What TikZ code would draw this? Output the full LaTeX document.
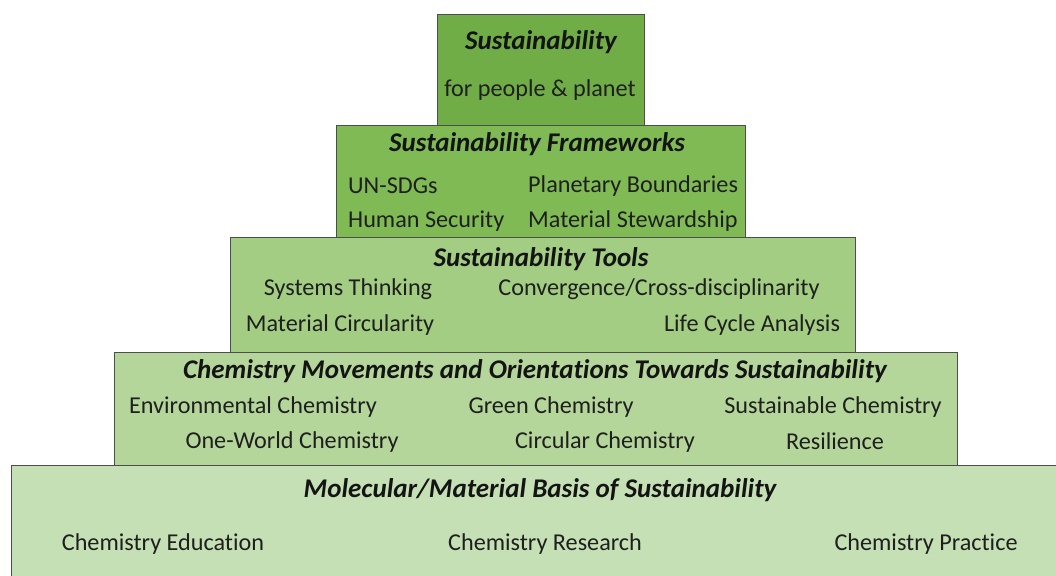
\documentclass[tikz,border=0pt]{standalone}
\usepackage{fontspec}
\setmainfont{Carlito}[Ligatures={NoCommon,NoRare,NoDiscretionary}]
\usetikzlibrary{positioning}

\definecolor{tierA}{HTML}{70AD47}
\definecolor{tierB}{HTML}{7FBA55}
\definecolor{tierC}{HTML}{A2CD82}
\definecolor{tierD}{HTML}{B4D69A}
\definecolor{tierE}{HTML}{C5E0B4}
\definecolor{edge}{HTML}{4D4D4D}

\begin{document}
\begin{tikzpicture}
                [x=1pt, y=-1pt,
                tier/.style={draw=edge, line width=0.9pt},
                head/.style={font=\fontsize{27}{31}\selectfont\bfseries\itshape, inner sep=0pt, text=black!92},
                item/.style={font=\fontsize{24.2}{28}\selectfont, inner sep=0pt, text=black!88, yshift=-2pt},
                ]
                \clip (0,0) rectangle (1056,575);
                \fill[white] (0,0) rectangle (1056,575);

                % pyramid tiers, bottom first
                \draw[tier, fill=tierE] (11,465) rectangle (1070,590);
                \draw[tier, fill=tierD] (114,352) rectangle (957,465);
                \draw[tier, fill=tierC] (230,237) rectangle (855,352);
                \draw[tier, fill=tierB] (336,125) rectangle (745,237);
                \draw[tier, fill=tierA] (437,14) rectangle (644,125);

                % top
                \node[head] (sust) at (541,42) {Sustainability};
                \node[item] (people) at (540,88) {for people \& planet};

                % frameworks
                \node[head] (frame) at (537,144) {Sustainability Frameworks};
                \node[item, anchor=west] (sdg) at (348,184) {UN-SDGs};
                \node[item, anchor=west] (planet) at (528,184) {Planetary Boundaries};
                \node[item, anchor=west] (human) at (348,219) {Human Security};
                \node[item, anchor=west] (steward) at (528,219) {Material Stewardship};

                % tools
                \node[head] (tools) at (541,259) {Sustainability Tools};
                \node[item] (systems) at (348,287) {Systems Thinking};
                \node[item] (converge) at (659,287) {Convergence/Cross-disciplinarity};
                \node[item] (circ) at (340,323) {Material Circularity};
                \node[item] (lca) at (752,323) {Life Cycle Analysis};

                % movements
                \node[head] (moves) at (535,371) {Chemistry Movements and Orientations Towards Sustainability};
                \node[item] (envchem) at (253,405) {Environmental Chemistry};
                \node[item] (green) at (551,405) {Green Chemistry};
                \node[item] (sustchem) at (833,405) {Sustainable Chemistry};
                \node[item] (oneworld) at (292,440) {One-World Chemistry};
                \node[item] (circchem) at (605,440) {Circular Chemistry};
                \node[item] (resil) at (835,439) {Resilience};

                % basis
                \node[head] (basis) at (540,490) {Molecular/Material Basis of Sustainability};
                \node[item] (edu) at (163,542) {Chemistry Education};
                \node[item] (research) at (545,542) {Chemistry Research};
                \node[item] (practice) at (926,542) {Chemistry Practice};
            \end{tikzpicture}
\end{document}
